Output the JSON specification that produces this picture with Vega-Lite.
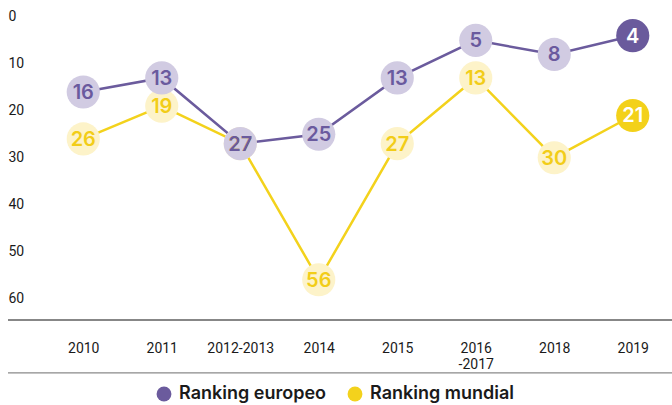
{
  "$schema": "https://vega.github.io/schema/vega-lite/v6.json",
  "width": 664,
  "height": 320,
  "autosize": {"type": "none"},
  "padding": {"left": 8, "top": 0, "right": 0, "bottom": 85},
  "background": "white",
  "config": {"view": {"stroke": null}, "font": "Inter"},
  "data": {
    "values": [
      {"periodo": "2010", "serie": "Ranking mundial", "posicion": 26},
      {"periodo": "2011", "serie": "Ranking mundial", "posicion": 19},
      {"periodo": "2012-2013", "serie": "Ranking mundial", "posicion": 27},
      {"periodo": "2014", "serie": "Ranking mundial", "posicion": 56},
      {"periodo": "2015", "serie": "Ranking mundial", "posicion": 27},
      {"periodo": "2016-2017", "serie": "Ranking mundial", "posicion": 13},
      {"periodo": "2018", "serie": "Ranking mundial", "posicion": 30},
      {"periodo": "2019", "serie": "Ranking mundial", "posicion": 21},
      {"periodo": "2010", "serie": "Ranking europeo", "posicion": 16},
      {"periodo": "2011", "serie": "Ranking europeo", "posicion": 13},
      {"periodo": "2012-2013", "serie": "Ranking europeo", "posicion": 27},
      {"periodo": "2014", "serie": "Ranking europeo", "posicion": 25},
      {"periodo": "2015", "serie": "Ranking europeo", "posicion": 13},
      {"periodo": "2016-2017", "serie": "Ranking europeo", "posicion": 5},
      {"periodo": "2018", "serie": "Ranking europeo", "posicion": 8},
      {"periodo": "2019", "serie": "Ranking europeo", "posicion": 4}
    ]
  },
  "layer": [
    {
      "data": {"values": [{}]},
      "mark": {"type": "rule", "color": "#111111", "strokeWidth": 1.2},
      "encoding": {"y": {"datum": 64.57, "type": "quantitative"}}
    },
    {
      "data": {"values": [{}]},
      "mark": {"type": "rule", "color": "#8a8a8a", "strokeWidth": 1.2},
      "encoding": {"y": {"datum": 75.85, "type": "quantitative"}}
    },
    {
      "encoding": {
        "x": {
          "field": "periodo",
          "type": "ordinal",
          "sort": null,
          "scale": {"type": "point", "range": [36, 664], "padding": 0.5},
          "axis": {
            "title": null,
            "domain": false,
            "ticks": false,
            "tickSize": 0,
            "grid": false,
            "labelPadding": 28,
            "labelBaseline": "middle",
            "labelAngle": 0,
            "labelFont": "Roboto",
            "labelFontSize": 14,
            "labelColor": "#1a1a1a",
            "labelLineHeight": 16,
            "labelExpr": "datum.value === '2016-2017' ? ['2016', '-2017'] : datum.value"
          }
        },
        "y": {
          "field": "posicion",
          "type": "quantitative",
          "scale": {"domain": [-3.6, 64.57], "reverse": true, "nice": false, "zero": false},
          "axis": {
            "title": null,
            "values": [0, 10, 20, 30, 40, 50, 60],
            "domain": false,
            "ticks": false,
            "tickSize": 0,
            "grid": false,
            "labelAlign": "left",
            "labelBaseline": "middle",
            "labelPadding": 0,
            "labelFont": "Roboto",
            "labelFontSize": 14,
            "labelColor": "#1a1a1a"
          }
        }
      },
      "layer": [
        {
          "mark": {"type": "line", "strokeWidth": 2.5},
          "encoding": {
            "color": {
              "field": "serie",
              "type": "nominal",
              "scale": {"domain": ["Ranking europeo", "Ranking mundial"], "range": ["#6b5b9d", "#f3d21c"]},
              "legend": {
                "orient": "none",
                "legendX": 147,
                "legendY": 385,
                "direction": "horizontal",
                "title": null,
                "symbolType": "circle",
                "symbolSize": 220,
                "symbolStrokeWidth": 0,
                "labelFont": "Inter",
                "labelFontSize": 18,
                "labelFontWeight": 600,
                "labelColor": "#1a1a1a",
                "labelOffset": 6,
                "columnPadding": 20,
                "encode": {
                  "symbols": {
                    "update": {
                      "fill": {"scale": "color", "field": "value"},
                      "strokeWidth": {"value": 0},
                      "opacity": {"value": 1}
                    }
                  }
                }
              }
            }
          }
        },
        {
          "mark": {"type": "point", "shape": "circle", "filled": true, "size": 1100, "opacity": 1, "strokeWidth": 0},
          "encoding": {
            "color": {
              "condition": [
                {"test": "datum.periodo === '2019' && datum.serie === 'Ranking europeo'", "value": "#6a5a9c"},
                {"test": "datum.periodo === '2019' && datum.serie === 'Ranking mundial'", "value": "#f3d11a"},
                {"test": "datum.serie === 'Ranking europeo'", "value": "#d1cbe2"}
              ],
              "value": "#fdf3c9"
            }
          }
        },
        {
          "mark": {"type": "text", "font": "Inter", "fontSize": 20, "fontWeight": 600, "align": "center", "baseline": "middle", "dy": 1},
          "encoding": {
            "text": {"field": "posicion", "type": "quantitative"},
            "color": {
              "condition": [
                {"test": "datum.periodo === '2019'", "value": "#ffffff"},
                {"test": "datum.serie === 'Ranking europeo'", "value": "#6a5a9e"}
              ],
              "value": "#f2cd18"
            }
          }
        }
      ]
    }
  ]
}
